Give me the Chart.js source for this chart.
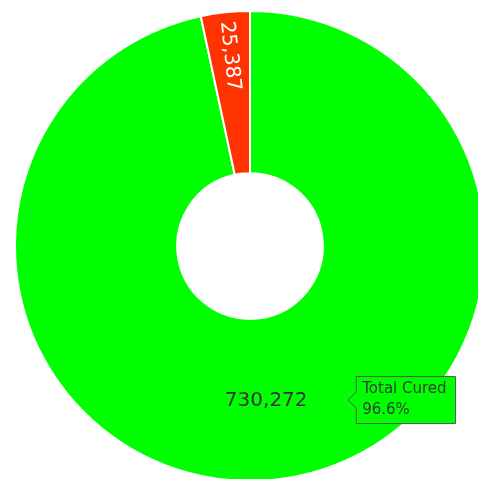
<!DOCTYPE html>
<html>
<head>
<meta charset="utf-8">
<script src="https://cdn.jsdelivr.net/npm/chart.js@4/dist/chart.umd.min.js"></script>
<style>
  html, body { margin: 0; padding: 0; background: #fff; overflow: hidden; }
  #wrap { position: absolute; left: 14px; top: 10px; width: 472px; height: 472px; }
</style>
</head>
<body>
<div id="wrap"><canvas id="donut"></canvas></div>
<script>
// data
var categories = ['Total Cured', 'Total Deaths'];
var counts = [730272, 25387];
var sliceColors = ['#00ff00', '#ff3300'];
var labelColors = ['#333333', '#ffffff'];

var total = counts.reduce(function (a, b) { return a + b; }, 0);

// slice value labels, rotated along the radius for thin slices
var sliceLabels = {
    id: 'sliceLabels',
    afterDatasetsDraw: function (chart) {
        var ctx = chart.ctx;
        var meta = chart.getDatasetMeta(0);
        meta.data.forEach(function (arc, i) {
            var p = arc.tooltipPosition();
            var span = arc.endAngle - arc.startAngle;
            ctx.save();
            ctx.font = '20px "DejaVu Sans", sans-serif';
            ctx.fillStyle = labelColors[i];
            ctx.textBaseline = 'middle';
            var txt = counts[i].toLocaleString('en-US');
            if (span < 0.5) {
                var mid = (arc.startAngle + arc.endAngle) / 2;
                ctx.translate(p.x, p.y);
                ctx.rotate(mid + Math.PI);
                ctx.textAlign = 'right';
                ctx.fillText(txt, -2, 0);
            } else {
                ctx.textAlign = 'center';
                ctx.fillText(txt, p.x, p.y + 2);
            }
            ctx.restore();
        });
    }
};

Chart.Tooltip.positioners.sideOfSlice = function (elements) {
    if (!elements.length) return false;
    var p = elements[0].element.tooltipPosition();
    return { x: p.x + 82, y: p.y + 1, xAlign: 'left', yAlign: 'center' };
};

var ctx = document.getElementById('donut').getContext('2d');
var donut = new Chart(ctx, {
    type: 'doughnut',
    data: {
        labels: categories,
        datasets: [{
            data: counts,
            backgroundColor: sliceColors,
            borderColor: '#ffffff',
            borderWidth: 2
        }]
    },
    options: {
        responsive: true,
        maintainAspectRatio: false,
        animation: false,
        cutout: '31%',
        layout: { padding: 0 },
        plugins: {
            legend: { display: false },
            tooltip: {
                position: 'sideOfSlice',
                backgroundColor: '#00ff00',
                borderColor: '#4d5a4d',
                borderWidth: 1,
                cornerRadius: 0,
                caretSize: 8,
                caretPadding: 0,
                padding: { left: 6, right: 9, top: 4, bottom: 4 },
                displayColors: false,
                titleColor: '#2f3f2f',
                bodyColor: '#2f3f2f',
                titleFont: { family: 'DejaVu Sans', size: 15, weight: 'normal' },
                bodyFont: { family: 'DejaVu Sans', size: 15 },
                titleMarginBottom: 3,
                callbacks: {
                    title: function (items) { return categories[items[0].dataIndex]; },
                    label: function (item) {
                        return (counts[item.dataIndex] / total * 100).toFixed(1) + '%';
                    }
                }
            }
        }
    },
    plugins: [sliceLabels]
});

donut.tooltip.setActiveElements([{ datasetIndex: 0, index: 0 }], { x: 0, y: 0 });
donut.update();
</script>
</body>
</html>
